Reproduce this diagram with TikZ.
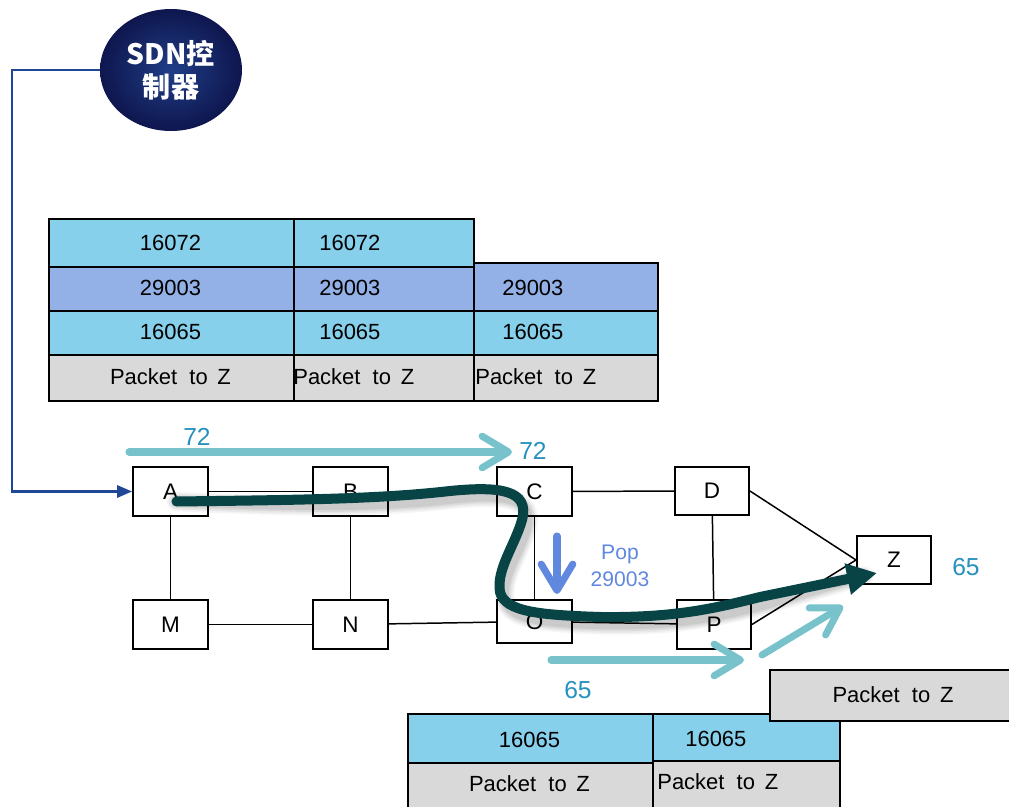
\documentclass[tikz,border=0pt]{standalone}
\usepackage{fontspec}
\setmainfont{Liberation Sans}
\newfontfamily\cjk{Noto Sans CJK SC}
\usetikzlibrary{arrows.meta,shapes.geometric,calc}
\definecolor{lblue}{RGB}{135,208,235}
\definecolor{mblue}{RGB}{147,177,230}
\definecolor{lgray}{RGB}{217,217,217}
\definecolor{tealA}{RGB}{120,194,204}
\definecolor{numblue}{RGB}{38,145,190}
\definecolor{popblue}{RGB}{96,136,222}
\definecolor{routec}{RGB}{8,68,70}
\definecolor{navyin}{RGB}{32,62,135}
\definecolor{navyout}{RGB}{14,22,78}
\definecolor{ctrlblue}{RGB}{32,70,150}
\tikzset{
  cell/.style={draw=black, line width=1.1pt, inner sep=0pt, anchor=north west},
  ctext/.style={inner sep=0pt, font=\fontsize{12.5}{14}\selectfont},
  netnode/.style={draw=black, line width=1.1pt, fill=white, inner sep=0pt,
    minimum width=1.5cm, minimum height=0.98cm, font=\fontsize{12.8}{14}\selectfont},
  link/.style={draw=black, line width=0.85pt},
  tealarrow/.style={draw=tealA, line width=4pt, line cap=round,
    -{Straight Barb[round, length=15pt, width=18pt]}},
  numlabel/.style={text=numblue, inner sep=0pt, font=\fontsize{14}{16}\selectfont},
  route/.style={draw=routec, line width=5.7pt, line cap=round,
    -{Triangle[length=17pt, width=17pt]}},
  routeshadow/.style={draw=black, line cap=round},
  routepath/.style={insert path={
    .. controls (300,500) and (380,499) .. (450,491)
    .. controls (500,486) and (530,490) .. (522,520)
    .. controls (515,545) and (496,570) .. (500,592)
    .. controls (505,612) and (540,615) .. (600,617)
    .. controls (676,618) and (716,608) .. (760,597)}},
}
\begin{document}
\begin{tikzpicture}[x=0.02cm, y=-0.02cm]
\useasboundingbox (0,0) rectangle (1009,807);
\clip (0,0) rectangle (1009,807);

% SDN controller
\node[ellipse, minimum width=2.84cm, minimum height=2.44cm, inner sep=0pt,
      inner color=navyin, outer color=navyout, text=white, align=center,
      font=\cjk\bfseries\fontsize{16}{18.5}\selectfont] (ctrl) at (171,70) {SDN控\\制器};

% top tables: column 1
\node[cell, fill=lblue, minimum width=4.9cm, minimum height=0.96cm] (a1) at (48,218) {};
\node[cell, fill=mblue, minimum width=4.9cm, minimum height=0.88cm] (a2) at (48,266) {};
\node[cell, fill=lblue, minimum width=4.9cm, minimum height=0.88cm] (a3) at (48,310) {};
\node[cell, fill=lgray, minimum width=4.9cm, minimum height=0.92cm] (a4) at (48,354) {};
\node[ctext] (a1t) at (170.5,243) {16072};
\node[ctext] (a2t) at (170.5,288) {29003};
\node[ctext] (a3t) at (170.5,332) {16065};
\node[ctext] (a4t) at (170.5,377) {Packet\ \ to\ \,Z};
% column 2
\node[cell, fill=lblue, minimum width=3.6cm, minimum height=0.96cm] (b1) at (293,218) {};
\node[cell, fill=mblue, minimum width=3.6cm, minimum height=0.88cm] (b2) at (293,266) {};
\node[cell, fill=lblue, minimum width=3.6cm, minimum height=0.88cm] (b3) at (293,310) {};
\node[cell, fill=lgray, minimum width=3.6cm, minimum height=0.92cm] (b4) at (293,354) {};
\node[ctext, anchor=west] (b1t) at (319,243) {16072};
\node[ctext, anchor=west] (b2t) at (319,288) {29003};
\node[ctext, anchor=west] (b3t) at (319,332) {16065};
\node[ctext, anchor=west] (b4t) at (293,377) {Packet\ \ to\ \,Z};
% column 3
\node[cell, fill=mblue, minimum width=3.68cm, minimum height=0.96cm] (c2) at (473,262) {};
\node[cell, fill=lblue, minimum width=3.68cm, minimum height=0.88cm] (c3) at (473,310) {};
\node[cell, fill=lgray, minimum width=3.68cm, minimum height=0.92cm] (c4) at (473,354) {};
\node[ctext, anchor=west] (c2t) at (502,288) {29003};
\node[ctext, anchor=west] (c3t) at (502,332) {16065};
\node[ctext, anchor=west] (c4t) at (475,377) {Packet\ \ to\ \,Z};

% bottom tables
\node[cell, fill=lblue, minimum width=4.9cm, minimum height=0.98cm] (d1) at (407,713) {};
\node[cell, fill=lgray, minimum width=4.9cm, minimum height=1.0cm] (d2) at (407,762) {};
\node[ctext] (d1t) at (529.5,740) {16065};
\node[ctext] (d2t) at (529.5,784) {Packet\ \ to\ \,Z};
\node[cell, fill=lblue, minimum width=3.74cm, minimum height=0.94cm] (e1) at (652,713) {};
\node[cell, fill=lgray, minimum width=3.74cm, minimum height=1.0cm] (e2) at (652,760) {};
\node[ctext, anchor=west] (e1t) at (685,739) {16065};
\node[ctext, anchor=west] (e2t) at (657,782) {Packet\ \ to\ \,Z};
\node[cell, fill=lgray, minimum width=4.86cm, minimum height=1.02cm] (f1) at (769,669) {};
\node[ctext] (f1t) at (893,695) {Packet\ \ to\ \,Z};

% network nodes
\node[netnode] (A) at (170.5,491.5) {A};
\node[netnode] (B) at (350.5,491.5) {B};
\node[netnode] (C) at (534.5,491.5) {C};
\node[netnode, minimum width=1.48cm, minimum height=0.96cm] (D) at (712,491) {D};
\node[netnode] (M) at (170.5,624.5) {M};
\node[netnode] (N) at (350.5,624.5) {N};
\node[netnode, minimum height=0.86cm] (O) at (534.5,621.5) {O};
\node[netnode, minimum width=1.48cm] (P) at (714,624.5) {P};
\node[netnode, minimum width=1.48cm, minimum height=0.96cm] (Z) at (894,560) {Z};

% links
\draw[link] (A) -- (B);
\draw[link] (B) -- (C);
\draw[link] (C) -- (D);
\draw[link] (A) -- (M);
\draw[link] (B) -- (N);
\draw[link] (C) -- (O);
\draw[link] (D) -- (P);
\draw[link] (M) -- (N);
\draw[link] (N) -- (O);
\draw[link] (O) -- (P);
\draw[link] (D.east) -- (Z.west);
\draw[link] (P.east) -- (Z.west);

% controller connector
\draw[draw=ctrlblue, line width=1.2pt, -{Triangle[length=8.5pt, width=7pt]}]
  (ctrl.west) -- ++(-88,0) |- (A.west);

% label arrows
\coordinate (t72s) at (129,452);
\coordinate (t72e) at (512,452);
\coordinate (b65s) at (551,660);
\coordinate (b65e) at (744,660);
\coordinate (g65s) at (762,655);
\coordinate (g65e) at (843,606);
\coordinate (pops) at (557,536);
\coordinate (pope) at (557,594);
\draw[tealarrow] (t72s) -- (t72e);
\draw[tealarrow] (b65s) -- (b65e);
\draw[tealarrow] (g65s) -- (g65e);
\draw[draw=popblue, line width=4pt, line cap=round,
      -{Straight Barb[round, length=15pt, width=18pt]}] (pops) -- (pope);

\node[numlabel] (l72a) at (197,437) {72};
\node[numlabel] (l72b) at (533,451) {72};
\node[numlabel] (l65a) at (966,567) {65};
\node[numlabel] (l65b) at (578,690) {65};
\node[text=popblue, align=center, inner sep=0pt,
      font=\fontsize{12}{15.3}\selectfont] (pop) at (620,566) {Pop\\29003};

% route: soft shadow layers, then the path
\begin{scope}[shift={(5,8)}]
  \foreach \w/\o in {11pt/0.04, 9pt/0.05, 7pt/0.06, 5pt/0.07}{
    \draw[routeshadow, line width=\w, opacity=\o] ([shift={(6,10)}]A.center)
      [routepath] -- ([shift={(-30,16)}]Z.center);
  }
\end{scope}
\draw[route] ([shift={(6,10)}]A.center) [routepath]
  -- ([shift={(-17,13)}]Z.center);
\end{tikzpicture}
\end{document}
